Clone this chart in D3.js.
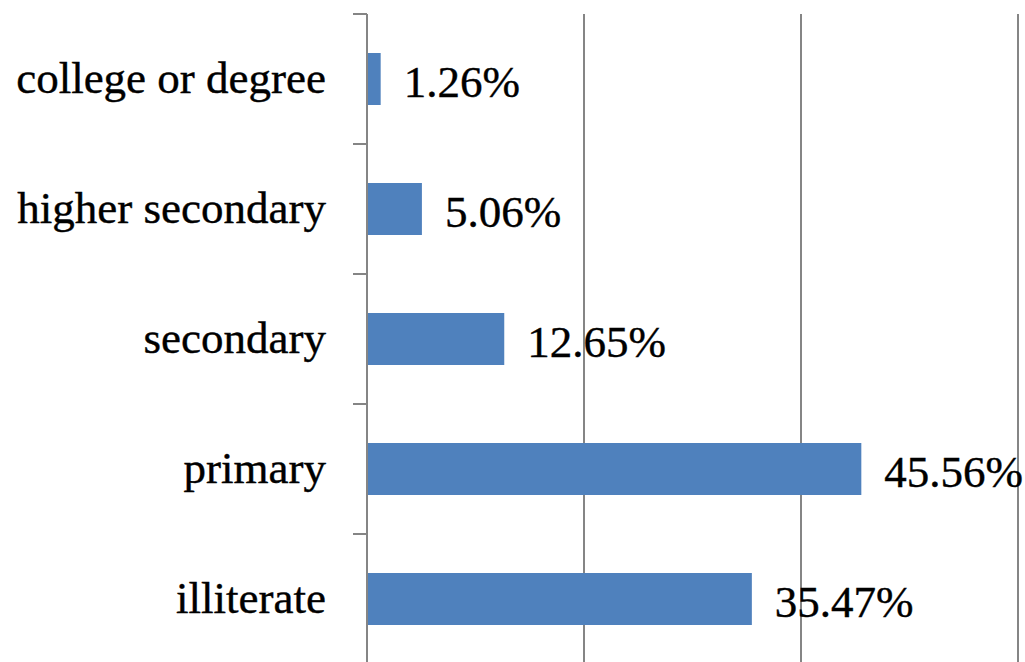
<!DOCTYPE html>
<html>
<head>
<meta charset="utf-8">
<script src="https://cdn.jsdelivr.net/npm/d3@7"></script>
<style>
  html, body { margin: 0; padding: 0; background: #fff; }
  svg { display: block; }
</style>
</head>
<body>
<svg id="chart" width="1025" height="662"></svg>
<script>
// Education level distribution (percent)
const categories = ["college or degree", "higher secondary", "secondary", "primary", "illiterate"];
const values = [1.26, 5.06, 12.65, 45.56, 35.47];
const valueLabels = ["1.26%", "5.06%", "12.65%", "45.56%", "35.47%"];
const gridTicks = [20, 40, 60];

const svg = d3.select("#chart");
const font = "'Times New Roman', 'Liberation Serif', serif";

const x = d3.scaleLinear().domain([0, 60]).range([367, 1018]);
const y = d3.scaleBand().domain(categories).range([14, 664])
  .paddingInner(0.6).paddingOuter(0.3);

// vertical gridlines
svg.append("g").selectAll("line").data(gridTicks).join("line")
  .attr("x1", d => x(d)).attr("x2", d => x(d))
  .attr("y1", y.range()[0]).attr("y2", y.range()[1])
  .attr("stroke", "#858585").attr("stroke-width", 2);

// bars
svg.append("g").selectAll("rect").data(categories).join("rect")
  .attr("x", x(0))
  .attr("y", d => y(d))
  .attr("width", (d, i) => x(values[i]) - x(0))
  .attr("height", y.bandwidth())
  .attr("fill", "#4F81BD");

// category axis line with tick marks between categories
const step = y.step();
const y0 = y.range()[0];
const tickYs = d3.range(categories.length + 1).map(i => y0 + i * step);
svg.append("line")
  .attr("x1", x(0)).attr("x2", x(0))
  .attr("y1", y0).attr("y2", y.range()[1])
  .attr("stroke", "#858585").attr("stroke-width", 2);
svg.append("g").selectAll("line").data(tickYs).join("line")
  .attr("x1", x(0) - 14).attr("x2", x(0))
  .attr("y1", d => d).attr("y2", d => d)
  .attr("stroke", "#858585").attr("stroke-width", 2);

// category labels
svg.append("g").selectAll("text").data(categories).join("text")
  .attr("x", x(0) - 41)
  .attr("y", d => y(d) + y.bandwidth() / 2 + 14)
  .attr("text-anchor", "end")
  .attr("font-family", font)
  .attr("font-size", 45)
  .attr("fill", "#000")
  .attr("stroke", "#000").attr("stroke-width", 0.4)
  .text(d => d);

// value labels
svg.append("g").selectAll("text").data(categories).join("text")
  .attr("x", (d, i) => x(values[i]) + 23)
  .attr("y", d => y(d) + y.bandwidth() / 2 + 18)
  .attr("font-family", font)
  .attr("font-size", 45)
  .attr("fill", "#000")
  .attr("stroke", "#000").attr("stroke-width", 0.4)
  .text((d, i) => valueLabels[i]);
</script>
</body>
</html>
